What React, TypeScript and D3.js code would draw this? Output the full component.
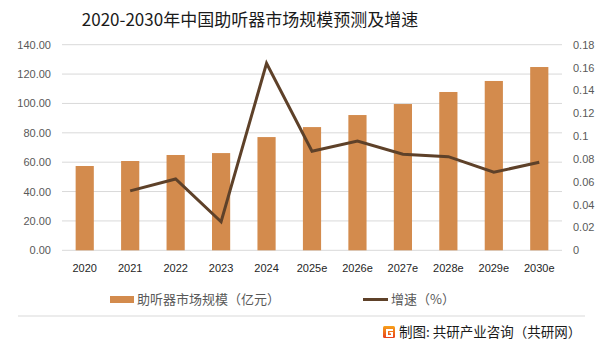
import React from "react";
import * as d3 from "d3";

const categories = ["2020", "2021", "2022", "2023", "2024", "2025e", "2026e", "2027e", "2028e", "2029e", "2030e"];
const marketSize = [57.4, 60.8, 64.9, 66.2, 77.1, 83.9, 92.1, 99.6, 107.8, 115.3, 124.8];
const growth: (number | null)[] = [null, 0.052, 0.0624, 0.025, 0.1637, 0.0867, 0.0957, 0.0841, 0.082, 0.0683, 0.0771];
const leftTicks = [0, 20, 40, 60, 80, 100, 120, 140];
const rightTicks = [0, 0.02, 0.04, 0.06, 0.08, 0.1, 0.12, 0.14, 0.16, 0.18];
const rightTickLabels = ["0", "0.02", "0.04", "0.06", "0.08", "0.1", "0.12", "0.14", "0.16", "0.18"];

const W = 603;
const H = 346;
const BAR = "#D38B4D";
const LINE = "#5E4129";
const TXT = "#595959";
const FONT = "'Noto Sans CJK SC', 'Liberation Sans', sans-serif";

export default function App() {
  const x = d3.scaleBand<string>().domain(categories).range([62, 562]).paddingInner(0.6).paddingOuter(0.3);
  const xc = (c: string) => (x(c) as number) + x.bandwidth() / 2;
  const yL = d3.scaleLinear().domain([0, 140]).range([250.3, 44.7]);
  const yR = d3.scaleLinear().domain([0, 0.18]).range([250.3, 44.7]);

  const pts = categories
    .map((c, i) => ({ c, v: growth[i] }))
    .filter((d) => d.v !== null) as { c: string; v: number }[];
  const line = d3
    .line<{ c: string; v: number }>()
    .x((d) => xc(d.c))
    .y((d) => yR(d.v));

  return (
    <svg width={W} height={H} style={{ position: "absolute", left: 0, top: 0, background: "#fff" }} fontFamily={FONT}>
      <rect width={W} height={H} fill="#fff" />
      <text x={250} y={26} textAnchor="middle" fontSize={17} fill="#1a1a1a">
        2020-2030年中国助听器市场规模预测及增速
      </text>
      {leftTicks.map((t) => (
        <g key={"g" + t}>
          <line x1={62} x2={562} y1={yL(t)} y2={yL(t)} stroke="#D9D9D9" strokeWidth={1} />
          <text x={51} y={yL(t) + 4} textAnchor="end" fontSize={11} fill={TXT} fontFamily="'Liberation Sans', sans-serif">
            {t.toFixed(2)}
          </text>
        </g>
      ))}
      {rightTicks.map((t, i) => (
        <text key={"r" + i} x={573} y={yR(t) + 4} textAnchor="start" fontSize={11} fill={TXT} fontFamily="'Liberation Sans', sans-serif">
          {rightTickLabels[i]}
        </text>
      ))}
      {categories.map((c, i) => (
        <rect key={c} x={x(c)} y={yL(marketSize[i])} width={x.bandwidth()} height={yL(0) - yL(marketSize[i])} fill={BAR} />
      ))}
      {categories.map((c) => (
        <text key={"x" + c} x={xc(c)} y={272} textAnchor="middle" fontSize={11} fill="#262626" fontFamily="'Liberation Sans', sans-serif">
          {c}
        </text>
      ))}
      <path d={line(pts) || ""} fill="none" stroke={LINE} strokeWidth={3} strokeLinejoin="miter" />
      {/* legend */}
      <rect x={110} y={296} width={24} height={7} fill={BAR} />
      <text x={137} y={304} fontSize={13} fill={TXT}>助听器市场规模（亿元）</text>
      <line x1={363} x2={388} y1={299.5} y2={299.5} stroke={LINE} strokeWidth={3} />
      <text x={391} y={304} fontSize={13} fill={TXT}>增速（%）</text>
      <line x1={18} x2={585} y1={316} y2={316} stroke="#D9D9D9" strokeWidth={1} />
      {/* footer */}
      <defs>
        <linearGradient id="lg" x1="0" y1="0" x2="0" y2="1">
          <stop offset="0" stopColor="#F7A21B" />
          <stop offset="1" stopColor="#E8401C" />
        </linearGradient>
      </defs>
      <rect x={383} y={326} width={12} height={12} rx={1.5} fill="url(#lg)" />
      <path d="M386 329 h7 v2 h-5 v4 h3 v-1.5 h-1.5 v-1.5 h3.5 v5 h-7 z" fill="#fff" />
      <text x={399} y={337} fontSize={13.5} fill="#1a1a1a">制图: 共研产业咨询（共研网）</text>
    </svg>
  );
}
